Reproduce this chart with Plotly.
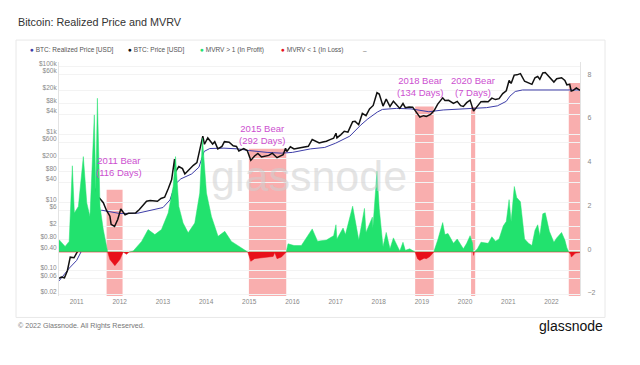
import plotly.graph_objects as go
import numpy as np

# ---------------- data ----------------
price_dates = [
    "2010-08-05", "2010-08-25", "2010-09-20", "2010-10-15", "2010-11-08", "2010-12-10",
    "2011-01-15", "2011-02-12", "2011-03-15", "2011-04-15", "2011-05-15", "2011-06-08",
    "2011-06-20", "2011-07-15", "2011-08-15", "2011-09-10", "2011-10-10", "2011-10-20",
    "2011-11-18", "2011-12-15", "2012-01-10", "2012-02-15", "2012-03-15", "2012-05-15",
    "2012-06-15", "2012-08-15", "2012-09-15", "2012-10-15", "2012-11-15", "2012-12-15",
    "2013-01-15", "2013-02-15", "2013-03-15", "2013-04-09", "2013-04-16", "2013-05-15",
    "2013-06-15", "2013-07-05", "2013-08-15", "2013-09-15", "2013-10-15", "2013-11-15",
    "2013-12-04", "2013-12-18", "2014-01-15", "2014-02-25", "2014-03-15", "2014-04-10",
    "2014-05-15", "2014-06-05", "2014-07-15", "2014-08-18", "2014-09-15", "2014-10-05",
    "2014-11-15", "2014-12-15", "2015-01-14", "2015-02-15", "2015-03-15", "2015-04-15",
    "2015-05-15", "2015-06-15", "2015-07-15", "2015-08-24", "2015-09-15", "2015-10-15",
    "2015-11-04", "2015-11-15", "2015-12-15", "2016-01-15", "2016-02-15", "2016-03-15",
    "2016-04-15", "2016-05-15", "2016-06-17", "2016-07-15", "2016-08-15", "2016-09-15",
    "2016-10-15", "2016-11-15", "2016-12-15", "2017-01-04", "2017-01-12", "2017-02-15",
    "2017-03-15", "2017-04-15", "2017-05-25", "2017-06-15", "2017-07-15", "2017-08-15",
    "2017-09-15", "2017-10-15", "2017-11-15", "2017-12-17", "2018-01-05", "2018-02-06",
    "2018-03-05", "2018-04-06", "2018-05-05", "2018-06-28", "2018-07-25", "2018-08-14",
    "2018-09-15", "2018-10-15", "2018-11-25", "2018-12-15", "2019-01-15", "2019-02-08",
    "2019-03-15", "2019-04-15", "2019-05-15", "2019-06-26", "2019-07-15", "2019-08-15",
    "2019-09-25", "2019-10-27", "2019-11-25", "2019-12-18", "2020-01-15", "2020-02-13",
    "2020-03-13", "2020-04-15", "2020-05-15", "2020-06-15", "2020-07-15", "2020-08-15",
    "2020-09-15", "2020-10-15", "2020-11-15", "2020-12-15", "2021-01-08", "2021-01-25",
    "2021-02-20", "2021-03-15", "2021-04-14", "2021-05-19", "2021-06-22", "2021-07-20",
    "2021-08-15", "2021-09-07", "2021-09-25", "2021-10-20", "2021-11-10", "2021-12-15",
    "2022-01-22", "2022-02-15", "2022-03-28", "2022-04-25", "2022-05-12", "2022-06-05",
    "2022-06-18", "2022-07-05", "2022-07-31", "2022-08-31",
]
price_usd = [
    0.06, 0.065, 0.062, 0.10, 0.25, 0.24,
    0.40, 0.95, 0.85, 1.3, 7.0, 26,
    16, 13.5, 10, 6.0, 4.0, 2.3,
    2.0, 3.2, 6.5, 4.4, 4.9, 5.0,
    6.3, 11, 11.5, 11.5, 11, 13.3,
    14.5, 26, 47, 190, 80, 115,
    100, 70, 100, 125, 150, 420,
    900, 520, 800, 530, 620, 380,
    450, 620, 600, 470, 450, 330,
    390, 340, 175, 235, 280, 220,
    235, 245, 285, 210, 230, 255,
    400, 320, 440, 380, 400, 415,
    430, 455, 720, 660, 570, 610,
    640, 710, 780, 1100, 800, 1000,
    1250, 1180, 2400, 2450, 1950, 4200,
    3600, 5700, 7200, 17000, 15500, 6900,
    11000, 6700, 9600, 5900, 8200, 6200,
    6500, 6400, 3900, 3250, 3600, 3400,
    3900, 5100, 7900, 12000, 10000, 10200,
    8300, 9500, 7100, 6700, 8700, 10300,
    4900, 6800, 9300, 9400, 9200, 11800,
    10700, 11400, 16000, 19400, 39000, 32000,
    56000, 57000, 62000, 37000, 32000, 30000,
    47000, 51000, 42000, 65000, 67000, 48000,
    35000, 44000, 47000, 39000, 29000, 30000,
    19000, 20000, 23500, 20000,
]

realized_dates = [
    "2010-08-05", "2010-11-01", "2011-01-01", "2011-03-01", "2011-05-01", "2011-06-15",
    "2011-08-01", "2011-10-01", "2012-01-01", "2012-06-01", "2012-10-01", "2013-01-01",
    "2013-03-01", "2013-04-15", "2013-06-01", "2013-09-01", "2013-11-01", "2013-12-15",
    "2014-02-01", "2014-06-01", "2014-10-01", "2015-01-01", "2015-06-01", "2015-10-01",
    "2016-01-01", "2016-06-01", "2016-10-01", "2017-01-01", "2017-05-01", "2017-08-01",
    "2017-10-01", "2017-12-20", "2018-02-01", "2018-06-01", "2018-10-01", "2018-12-01",
    "2019-03-01", "2019-07-01", "2019-11-01", "2020-03-01", "2020-07-01", "2020-10-01",
    "2020-12-15", "2021-01-15", "2021-03-01", "2021-05-01", "2021-08-01", "2021-11-01",
    "2022-02-01", "2022-05-01", "2022-06-20", "2022-08-31",
]
realized_usd = [
    0.05, 0.12, 0.2, 0.5, 1.5, 4.5,
    6.0, 5.5, 4.8, 4.9, 6.0, 7.2,
    12, 35, 50, 70, 110, 320,
    390, 400, 380, 340, 300, 285,
    300, 380, 420, 560, 900, 1900,
    2900, 4600, 5500, 5900, 5700, 5200,
    4700, 5300, 5600, 5700, 6200, 7000,
    9500, 13500, 18500, 20500, 20500, 21500,
    21500, 21500, 21000, 20500,
]

# MVRV - 1 (green above zero = in profit, red below zero = in loss)
mvrv_dates = [
    "2010-08-05", "2010-09-26", "2010-10-30", "2010-11-26", "2010-12-13", "2011-01-16",
    "2011-02-27", "2011-03-28", "2011-04-24", "2011-05-31", "2011-06-12", "2011-06-26",
    "2011-07-18", "2011-08-15", "2011-09-21", "2011-10-10", "2011-11-21", "2012-01-02",
    "2012-01-30", "2012-02-28", "2012-03-20", "2012-04-24", "2012-07-04", "2012-08-28",
    "2012-10-24", "2012-12-19", "2013-02-14", "2013-03-28", "2013-04-17", "2013-05-15",
    "2013-06-20", "2013-08-02", "2013-09-27", "2013-11-08", "2013-12-01", "2014-01-04",
    "2014-02-15", "2014-04-12", "2014-06-08", "2014-08-03", "2014-10-26", "2014-12-20",
    "2015-01-14", "2015-02-15", "2015-04-01", "2015-06-01", "2015-07-22", "2015-08-05",
    "2015-08-24", "2015-10-01", "2015-11-10", "2015-11-25", "2016-01-15", "2016-03-17",
    "2016-06-17", "2016-08-01", "2016-10-15", "2016-12-15", "2017-01-04", "2017-01-12",
    "2017-03-05", "2017-03-25", "2017-05-25", "2017-07-16", "2017-09-02", "2017-09-15",
    "2017-11-08", "2017-11-12", "2017-12-17", "2018-01-05", "2018-02-06", "2018-03-05",
    "2018-04-06", "2018-05-05", "2018-06-28", "2018-07-25", "2018-08-14", "2018-09-20",
    "2018-11-05", "2018-11-25", "2018-12-15", "2019-01-20", "2019-02-08", "2019-03-10",
    "2019-04-11", "2019-05-15", "2019-06-26", "2019-07-15", "2019-08-10", "2019-09-25",
    "2019-10-27", "2019-12-18", "2020-01-15", "2020-02-13", "2020-03-05", "2020-03-11",
    "2020-03-13", "2020-03-19", "2020-04-15", "2020-05-15", "2020-07-15", "2020-08-15",
    "2020-09-15", "2020-10-15", "2020-11-20", "2020-12-15", "2021-01-08", "2021-01-25",
    "2021-02-21", "2021-03-13", "2021-04-14", "2021-05-19", "2021-06-22", "2021-07-20",
    "2021-08-15", "2021-09-07", "2021-09-25", "2021-10-20", "2021-11-10", "2021-12-15",
    "2022-01-22", "2022-02-15", "2022-03-28", "2022-04-25", "2022-05-12", "2022-05-28",
    "2022-06-13", "2022-06-18", "2022-07-05", "2022-07-20", "2022-08-31",
]
mvrv_gap = [
    0.57, 0.26, 0.49, 3.95, 1.79, 2.09,
    4.37, 2.25, 1.63, 6.28, 2.72, 7.04,
    2.09, 1.03, 0.0, -0.34, -0.62, -0.34,
    0.0, -0.1, 0.0, 0.05, 0.49, 1.03,
    0.8, 1.03, 1.79, 3.0, 4.37, 2.09,
    1.33, 0.88, 1.33, 2.7, 5.21, 2.7,
    1.63, 0.72, 0.95, 0.49, 0.19, 0.0,
    -0.42, -0.3, -0.27, -0.25, -0.2, -0.02,
    -0.3, -0.22, 0.0, 0.38, 0.3, 0.3,
    1.06, 0.5, 0.55, 0.75, 1.25, 0.6,
    1.1, 0.8, 2.1, 0.55, 2.0, 0.9,
    1.6, 1.1, 3.7, 2.0, 0.25, 0.9,
    0.15, 0.65, 0.05, 0.45, 0.08, 0.15,
    0.0, -0.3, -0.38, -0.28, -0.3, -0.2,
    0.0, 0.55, 1.35, 0.8, 0.85, 0.4,
    0.6, 0.15, 0.4, 0.75, 0.4, 0.0,
    -0.15, 0.0, 0.15, 0.45, 0.4, 0.7,
    0.5, 0.6, 1.2, 1.4, 2.4, 1.4,
    3.0, 2.5, 2.3, 0.6, 0.4, 0.3,
    1.0, 1.25, 0.75, 1.75, 1.8, 0.95,
    0.45, 0.65, 0.9, 0.55, 0.2, 0.0,
    -0.1, -0.22, -0.15, -0.05, -0.02,
]

# bear periods (MVRV < 1): start, end, label, height of the shaded band (MVRV axis)
bear_start = ["2011-09-12", "2014-12-29", "2018-11-05", "2020-02-21", "2022-05-28"]
bear_end = ["2012-01-25", "2015-11-10", "2019-04-11", "2020-03-27", "2022-08-31"]
bear_label = ["2011 Bear<br>(116 Days)", "2015 Bear<br>(292 Days)", "2018 Bear<br>(134 Days)",
              "2020 Bear<br>(7 Days)", "2022 Bear<br>(79 Days)"]
bear_top = [2.85, 4.73, 6.66, 6.64, 7.74]
label_x = ["2011-12-25", "2015-04-15", "2018-12-15", "2020-03-12", "2022-08-04"]
label_y = [3.9, 5.39, 7.56, 7.56, 8.84]

price_tickvals = [0.02, 0.06, 0.1, 0.4, 0.8, 2, 6, 10, 40, 80, 200, 600, 1000, 4000, 8000,
                  20000, 60000, 100000]
price_ticktext = ["$0.02", "$0.06", "$0.10", "$0.40", "$0.80", "$2", "$6", "$10", "$40", "$80",
                  "$200", "$600", "$1k", "$4k", "$8k", "$20k", "$60k", "$100k"]
mvrv_tickvals = [-2, 0, 2, 4, 6, 8]
year_ticks = [f"{y}-01-01" for y in range(2011, 2023)]
year_text = [str(y) for y in range(2011, 2023)]

# ---------------- layout geometry (reference pixel coordinates) ----------------
W, H = 640, 365
OFF = 8  # the page body has an 8px margin, so the figure is drawn 8px smaller
PL, PR, PT, PB = 59, 580, 62, 296.5
X_RANGE = ["2010-08-05", "2022-08-31"]
LOG_REF_Y, LOG_PX = 295.0, 34.1   # $0.02 at y=295, 34.1 px per decade
M_ZERO_Y, M_PX = 252.5, 21.9      # MVRV-1 zero at y=252.5, 21.9 px per unit
y_range = [np.log10(0.02) - (PB - LOG_REF_Y) / LOG_PX, np.log10(0.02) + (LOG_REF_Y - PT) / LOG_PX]
y2_range = [-(PB - M_ZERO_Y) / M_PX, (M_ZERO_Y - PT) / M_PX]


def xp(px):
    return (px - PL) / (PR - PL)


def yp(py):
    return (PB - py) / (PB - PT)


GREEN = "#22e26e"
RED = "#e8101a"
BLUE = "#3d3da8"
MAGENTA = "#cc4fd0"
FONT = "Liberation Sans, Arial, sans-serif"

v = np.array(mvrv_gap)
green = np.where(v > 0, v, 0.0)
red = np.where(v < 0, v, 0.0)

fig = go.Figure()
fig.add_trace(go.Scatter(x=realized_dates, y=realized_usd, mode="lines",
                         line=dict(color=BLUE, width=1), name="BTC: Realized Price [USD]"))
fig.add_trace(go.Scatter(x=price_dates, y=price_usd, mode="lines",
                         line=dict(color="#111111", width=1.5), name="BTC: Price [USD]"))
fig.add_trace(go.Scatter(x=mvrv_dates, y=green, yaxis="y2", mode="lines", fill="tozeroy",
                         fillcolor=GREEN, line=dict(color=GREEN, width=0.5),
                         name="MVRV > 1 (In Profit)"))
fig.add_trace(go.Scatter(x=mvrv_dates, y=red, yaxis="y2", mode="lines", fill="tozeroy",
                         fillcolor=RED, line=dict(color=RED, width=0.5),
                         name="MVRV < 1 (In Loss)"))

shapes = []
for s, e, t in zip(bear_start, bear_end, bear_top):
    shapes.append(dict(type="rect", xref="x", yref="y2", x0=s, x1=e, y0=y2_range[0], y1=t,
                       fillcolor="rgba(245,120,120,0.6)", line=dict(width=0), layer="below"))
# card frame
shapes.append(dict(type="rect", xref="paper", yref="paper", x0=xp(16), x1=xp(605),
                   y0=yp(318), y1=yp(40), line=dict(color="#e8e8e8", width=1),
                   fillcolor="rgba(0,0,0,0)", layer="below"))

annotations = []
for lx, ly, txt in zip(label_x, label_y, bear_label):
    annotations.append(dict(x=lx, y=ly, xref="x", yref="y2", text=txt, showarrow=False,
                            font=dict(size=9.5, color=MAGENTA, family=FONT),
                            xanchor="center", yanchor="middle", align="center"))

annotations.append(dict(x=xp(16), y=yp(22), xref="paper", yref="paper",
                        text="Bitcoin: Realized Price and MVRV", showarrow=False,
                        xanchor="left", yanchor="middle",
                        font=dict(size=10.8, color="#333333", family=FONT)))
annotations.append(dict(x=xp(309), y=yp(176), xref="paper", yref="paper", text="glassnode",
                        showarrow=False, xanchor="center", yanchor="middle", opacity=0.55,
                        font=dict(size=43, color="#cfcfcf", family=FONT)))
annotations.append(dict(x=xp(16), y=yp(327), xref="paper", yref="paper",
                        text="© 2022 Glassnode. All Rights Reserved.", showarrow=False,
                        xanchor="left", yanchor="middle",
                        font=dict(size=7.1, color="#777777", family=FONT)))
annotations.append(dict(x=xp(605), y=yp(327), xref="paper", yref="paper", text="glassnode",
                        showarrow=False, xanchor="right", yanchor="middle",
                        font=dict(size=14, color="#111111", family=FONT)))

legend_items = [("BTC: Realized Price [USD]", BLUE, 28),
                ("BTC: Price [USD]", "#111111", 126),
                ("MVRV &gt; 1 (In Profit)", GREEN, 198),
                ("MVRV &lt; 1 (In Loss)", RED, 279)]
for txt, col, px in legend_items:
    annotations.append(dict(x=xp(px), y=yp(50), xref="paper", yref="paper",
                            text=f"<span style='color:{col}'>●</span> {txt}", showarrow=False,
                            xanchor="left", yanchor="middle",
                            font=dict(size=6.5, color="#555555", family=FONT)))
annotations.append(dict(x=xp(365), y=yp(50), xref="paper", yref="paper", text="–",
                        showarrow=False, xanchor="center", yanchor="middle",
                        font=dict(size=6.5, color="#777777", family=FONT)))

fig.update_layout(
    template="none",
    width=W - OFF, height=H - OFF,
    margin=dict(l=PL - OFF, r=W - PR, t=PT - OFF, b=H - PB, pad=0),
    paper_bgcolor="white", plot_bgcolor="white",
    showlegend=False,
    font=dict(family=FONT, color="#777777", size=7),
    shapes=shapes, annotations=annotations,
    xaxis=dict(type="date", range=X_RANGE, tickvals=year_ticks, ticktext=year_text,
               showgrid=False, zeroline=False, showline=False, ticks="",
               tickfont=dict(size=6.5, color="#888888"), automargin=False),
    yaxis=dict(type="log", range=y_range, tickvals=price_tickvals, ticktext=price_ticktext,
               showgrid=True, gridcolor="#f3f3f3", gridwidth=1, zeroline=False,
               showline=True, linecolor="#e3e3e3", ticks="", ticklabelshift=-3,
               tickfont=dict(size=6.5, color="#888888"), automargin=False),
    yaxis2=dict(overlaying="y", side="right", range=y2_range, tickvals=mvrv_tickvals,
                showgrid=False, zeroline=False, showline=True, linecolor="#e3e3e3",
                ticks="", ticklabelshift=-3, ticklabelstandoff=5,
                tickfont=dict(size=7, color="#888888"), automargin=False),
)

fig.write_html("out.html")
